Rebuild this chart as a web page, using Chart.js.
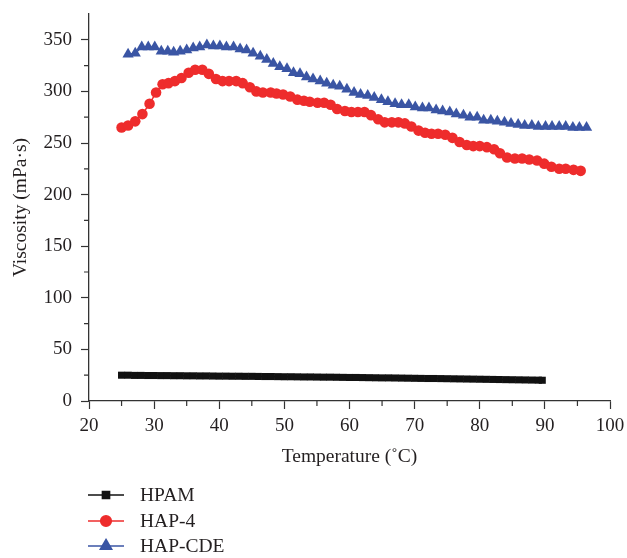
<!DOCTYPE html>
<html>
<head>
<meta charset="utf-8">
<script src="https://cdn.jsdelivr.net/npm/chart.js@4/dist/chart.umd.min.js"></script>
<style>
  html, body { margin: 0; padding: 0; background: #fff; }
  #wrap { width: 627px; height: 558px; }
</style>
</head>
<body>
<div id="wrap"><canvas id="viscChart" width="627" height="558"></canvas></div>
<script>
// Viscosity vs temperature for three polymers
const hpamTemp = [25, 26, 27, 28, 29, 30, 31, 32, 33, 34, 35, 36, 37, 38, 39, 40, 41, 42, 43, 44,
  45, 46, 47, 48, 49, 50, 51, 52, 53, 54, 55, 56, 57, 58, 59, 60, 61, 62, 63, 64,
  65, 66, 67, 68, 69, 70, 71, 72, 73, 74, 75, 76, 77, 78, 79, 80, 81, 82, 83, 84,
  85, 86, 87, 88, 89, 89.6];
const hpamVisc = [25, 25, 24.8, 24.8, 24.7, 24.7, 24.6, 24.6, 24.5, 24.5, 24.4, 24.4, 24.3, 24.3, 24.2,
  24.1, 24.1, 24.0, 24.0, 23.9, 23.9, 23.8, 23.7, 23.7, 23.6, 23.5, 23.5, 23.4, 23.3, 23.3,
  23.2, 23.1, 23.1, 23.0, 22.9, 22.8, 22.8, 22.7, 22.6, 22.5, 22.4, 22.4, 22.3, 22.2, 22.1,
  22.0, 21.9, 21.8, 21.8, 21.7, 21.6, 21.5, 21.4, 21.3, 21.2, 21.1, 21.0, 20.9, 20.8, 20.7,
  20.6, 20.5, 20.4, 20.3, 20.2, 20.1];

const hap4Temp = [25.0, 26.0, 27.1, 28.2, 29.3, 30.3, 31.3, 32.2, 33.2, 34.2, 35.3, 36.3, 37.4, 38.4, 39.5,
  40.5, 41.5, 42.6, 43.6, 44.7, 45.7, 46.7, 47.9, 48.8, 49.8, 50.9, 52.0, 53.0, 53.9, 55.1,
  56.1, 57.1, 58.1, 59.3, 60.3, 61.3, 62.3, 63.3, 64.4, 65.4, 66.5, 67.5, 68.5, 69.5, 70.6,
  71.6, 72.6, 73.6, 74.7, 75.8, 76.9, 78.0, 79.0, 80.0, 81.1, 82.2, 83.1, 84.2, 85.4, 86.5,
  87.6, 88.8, 89.9, 91.0, 92.2, 93.2, 94.4, 95.5];
const hap4Visc = [265, 267, 271, 278, 288, 299, 307, 308, 310, 313, 318, 321, 321, 317, 312,
  310, 310, 310, 308, 304, 300, 299, 299, 298, 297, 295, 292, 291, 290, 289,
  289, 287, 283, 281, 280, 280, 280, 277, 273, 270, 270, 270, 269, 266, 262,
  260, 259, 259, 258, 255, 251, 248, 247, 247, 246, 244, 240, 236, 235, 235,
  234, 233, 230, 227, 225, 225, 224, 223];

const cdeTemp = [26.0, 27.1, 28.1, 29.1, 30.1, 31.1, 32.1, 33.0, 34.0, 35.0, 36.0, 37.0, 38.1, 39.1, 40.1,
  41.1, 42.2, 43.2, 44.2, 45.2, 46.3, 47.3, 48.3, 49.3, 50.4, 51.4, 52.4, 53.4, 54.4, 55.5,
  56.5, 57.5, 58.5, 59.6, 60.7, 61.7, 62.8, 63.8, 64.9, 65.9, 67.0, 68.0, 69.1, 70.1, 71.2,
  72.2, 73.3, 74.3, 75.4, 76.4, 77.5, 78.5, 79.6, 80.6, 81.7, 82.7, 83.8, 84.8, 85.9, 86.9,
  88.0, 89.0, 90.1, 91.1, 92.2, 93.2, 94.3, 95.3, 96.4];
const cdeVisc = [336, 337, 343, 343, 343, 339, 339, 338, 339, 340, 342, 343, 345, 344, 344,
  343, 343, 341, 340, 337, 334, 331, 327, 324, 322, 318, 317, 314, 312, 310,
  308, 306, 305, 302, 299, 297, 296, 294, 292, 290, 288, 287, 287, 285, 284,
  284, 282, 281, 280, 278, 277, 275, 275, 272, 272, 271, 270, 269, 268, 267,
  267, 266, 266, 266, 266, 266, 265, 265, 265];

const xMinor = [25, 35, 45, 55, 65, 75, 85, 95];
const yMinor = [25, 75, 125, 175, 225, 275, 325];

const FONT = "'Liberation Serif', 'DejaVu Serif', serif";
const INK = '#231f20';
const AXIS = '#333333';

function pts(xs, ys) {
  return xs.map((x, i) => ({ x: x, y: ys[i] }));
}

// short minor ticks between the labelled ones
const minorTicks = {
  id: 'minorTicks',
  afterDraw(chart) {
    const c = chart.ctx, a = chart.chartArea;
    const xs = chart.scales.x, ys = chart.scales.y;
    c.save();
    c.strokeStyle = AXIS;
    c.lineWidth = 1.2;
    c.beginPath();
    xMinor.forEach(v => {
      const px = xs.getPixelForValue(v);
      c.moveTo(px, a.bottom);
      c.lineTo(px, a.bottom + 5);
    });
    yMinor.forEach(v => {
      const py = ys.getPixelForValue(v);
      c.moveTo(a.left, py);
      c.lineTo(a.left - 5, py);
    });
    c.stroke();
    c.restore();
  }
};

// vertical legend under the axis title
const stackedLegend = {
  id: 'stackedLegend',
  afterDraw(chart) {
    const c = chart.ctx;
    const rows = [495, 521, 546];
    c.save();
    chart.data.datasets.forEach((ds, i) => {
      const y = rows[i];
      c.strokeStyle = ds.borderColor;
      c.lineWidth = 1.6;
      c.beginPath();
      c.moveTo(88, y);
      c.lineTo(124, y);
      c.stroke();
      c.fillStyle = ds.backgroundColor;
      c.strokeStyle = ds.backgroundColor;
      Chart.helpers.drawPoint(c, {
        pointStyle: ds.pointStyle, radius: ds.pointRadius, rotation: 0, borderWidth: 1
      }, 106, y);
      c.fillStyle = INK;
      c.font = '19.5px ' + FONT;
      c.textBaseline = 'middle';
      c.textAlign = 'left';
      c.fillText(ds.label, 140, y + 1);
    });
    c.restore();
  }
};

const ctx = document.getElementById('viscChart').getContext('2d');
const viscChart = new Chart(ctx, {
  type: 'scatter',
  data: {
    datasets: [{
      label: 'HPAM',
      data: pts(hpamTemp, hpamVisc),
      showLine: true,
      borderColor: '#111111',
      backgroundColor: '#111111',
      borderWidth: 1.5,
      pointStyle: 'rect',
      pointRadius: 5,
      pointBorderWidth: 0
    }, {
      label: 'HAP-4',
      data: pts(hap4Temp, hap4Visc),
      showLine: true,
      borderColor: '#ee2c2c',
      backgroundColor: '#ee2c2c',
      borderWidth: 1.5,
      pointStyle: 'circle',
      pointRadius: 5.3,
      pointBorderWidth: 0
    }, {
      label: 'HAP-CDE',
      data: pts(cdeTemp, cdeVisc),
      showLine: true,
      borderColor: '#3a55a4',
      backgroundColor: '#3a55a4',
      borderWidth: 1.5,
      pointStyle: 'triangle',
      pointRadius: 6.5,
      pointBorderWidth: 0
    }]
  },
  options: {
    responsive: false,
    animation: false,
    layout: { padding: { top: 14, right: 17, bottom: 87, left: 0 } },
    plugins: {
      legend: { display: false },
      tooltip: { enabled: false }
    },
    scales: {
      x: {
        type: 'linear',
        min: 20,
        max: 100,
        afterFit: s => { s.height = 70; s.paddingLeft = 0; s.paddingRight = 0; },
        ticks: { stepSize: 10, color: INK, font: { family: FONT, size: 19 }, padding: 6 },
        grid: { drawOnChartArea: false, tickLength: 8, color: AXIS, tickWidth: 1.2 },
        border: { color: AXIS, width: 1.3 },
        title: {
          display: true,
          text: 'Temperature (˚C)',
          color: INK,
          font: { family: FONT, size: 19.5 },
          padding: { top: 0, bottom: 2 }
        }
      },
      y: {
        min: 0,
        max: 375,
        afterFit: s => { s.width = 89; s.paddingTop = 0; s.paddingBottom = 0; },
        afterBuildTicks: s => { s.ticks = s.ticks.filter(t => t.value % 50 === 0); },
        ticks: { stepSize: 50, color: INK, font: { family: FONT, size: 19 }, padding: 9 },
        grid: { drawOnChartArea: false, tickLength: 8, color: AXIS, tickWidth: 1.2 },
        border: { color: AXIS, width: 1.3 },
        title: {
          display: true,
          text: 'Viscosity (mPa·s)',
          color: INK,
          font: { family: FONT, size: 19.5 },
          padding: { top: 9, bottom: 0 }
        }
      }
    }
  },
  plugins: [minorTicks, stackedLegend]
});
</script>
</body>
</html>
